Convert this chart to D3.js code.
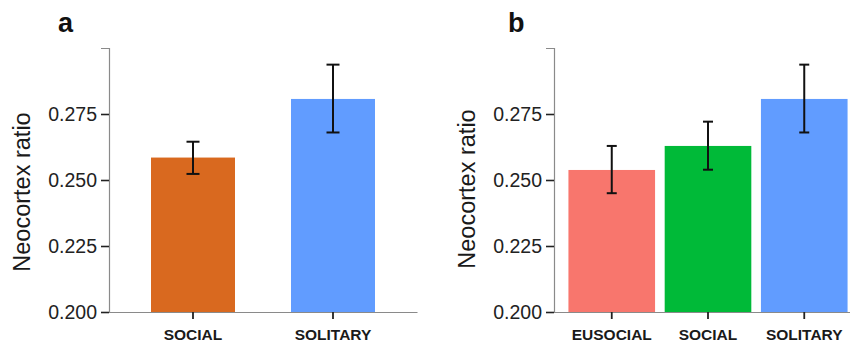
<!DOCTYPE html>
<html>
<head>
<meta charset="utf-8">
<script src="https://cdn.jsdelivr.net/npm/d3@7"></script>
<style>
  body { margin: 0; background: #fff; }
  svg { display: block; font-family: "Liberation Sans", Arial, sans-serif; }
</style>
</head>
<body>
<svg id="chart" width="850" height="344"></svg>
<script>
// ---- datos ----
const groupsA = ['SOCIAL', 'SOLITARY'];
const meansA  = [0.2585, 0.2807];
const lowA    = [0.2523, 0.2680];
const highA   = [0.2645, 0.2937];
const colorsA = ['#D9691F', '#619CFF'];

const groupsB = ['EUSOCIAL', 'SOCIAL', 'SOLITARY'];
const meansB  = [0.2538, 0.2629, 0.2807];
const lowB    = [0.2450, 0.2539, 0.2680];
const highB   = [0.2629, 0.2721, 0.2937];
const colorsB = ['#F8766D', '#00BA38', '#619CFF'];

const yTicks = [0.200, 0.225, 0.250, 0.275];
const yDomain = [0.2, 0.3];

const svg = d3.select('#chart');

// dibuja un panel completo
function drawPanel(opts) {
  const g = svg.append('g');

  const x = d3.scaleBand()
    .domain(opts.groups)
    .range(opts.xRange)
    .paddingInner(opts.padInner)
    .paddingOuter(opts.padOuter);

  const y = d3.scaleLinear().domain(yDomain).range([312, 48]);

  const rows = opts.groups.map((k, i) => ({
    key: k, mean: opts.means[i], lo: opts.low[i], hi: opts.high[i], color: opts.colors[i]
  }));

  // barras
  g.selectAll('.bar')
    .data(rows)
    .join('rect')
      .attr('x', d => x(d.key))
      .attr('y', d => y(d.mean))
      .attr('width', x.bandwidth())
      .attr('height', d => y(yDomain[0]) - y(d.mean))
      .attr('fill', d => d.color);

  // eje Y
  const yAxis = g.append('g')
    .attr('transform', `translate(${opts.xRange[0]},0)`)
    .call(d3.axisLeft(y).tickValues(yTicks).tickFormat(d3.format('.3f')).tickSize(8).tickPadding(4));
  yAxis.select('.domain').attr('stroke', '#8a8a8a').attr('stroke-width', 1.2);
  yAxis.selectAll('.tick line').attr('stroke', '#222').attr('stroke-width', 1.6);
  yAxis.selectAll('.tick text').attr('fill', '#222').style('font-size', '19.5px');

  // eje X
  const xAxis = g.append('g')
    .attr('transform', `translate(0,${y(yDomain[0])})`)
    .call(d3.axisBottom(x).tickSize(7).tickPadding(10).tickSizeOuter(0));
  xAxis.select('.domain').attr('stroke', '#8a8a8a').attr('stroke-width', 1.2);
  xAxis.selectAll('.tick line').attr('stroke', '#222').attr('stroke-width', 1.8);
  xAxis.selectAll('.tick text').attr('fill', '#1a1a1a')
    .style('font-size', '15.5px').style('font-weight', 'bold');

  // barras de error
  const cx = d => x(d.key) + x.bandwidth() / 2;
  const err = g.selectAll('.err').data(rows).join('g').attr('stroke', '#111').attr('stroke-width', 2);
  err.append('line').attr('x1', cx).attr('x2', cx).attr('y1', d => y(d.lo)).attr('y2', d => y(d.hi));
  err.append('line').attr('x1', d => cx(d) - opts.cap).attr('x2', d => cx(d) + opts.cap)
    .attr('y1', d => y(d.hi)).attr('y2', d => y(d.hi));
  err.append('line').attr('x1', d => cx(d) - opts.cap).attr('x2', d => cx(d) + opts.cap)
    .attr('y1', d => y(d.lo)).attr('y2', d => y(d.lo));

  // título eje Y
  g.append('text')
    .attr('transform', `translate(${opts.titleX},${opts.titleY}) rotate(-90)`)
    .attr('text-anchor', 'middle')
    .attr('fill', '#1a1a1a')
    .style('font-size', '23.5px')
    .text('Neocortex ratio');

  // etiqueta del panel
  g.append('text')
    .attr('x', opts.labelX).attr('y', 32)
    .style('font-size', '27px').style('font-weight', 'bold')
    .attr('fill', '#111')
    .text(opts.label);
}

drawPanel({
  groups: groupsA, means: meansA, low: lowA, high: highA, colors: colorsA,
  xRange: [109, 417], padInner: 0.4, padOuter: 0.3, cap: 6.5,
  titleX: 30, titleY: 192, labelX: 58, label: 'a'
});

drawPanel({
  groups: groupsB, means: meansB, low: lowB, high: highB, colors: colorsB,
  xRange: [554, 862], padInner: 0.1, padOuter: 0.15, cap: 5,
  titleX: 475, titleY: 189, labelX: 508, label: 'b'
});
</script>
</body>
</html>
